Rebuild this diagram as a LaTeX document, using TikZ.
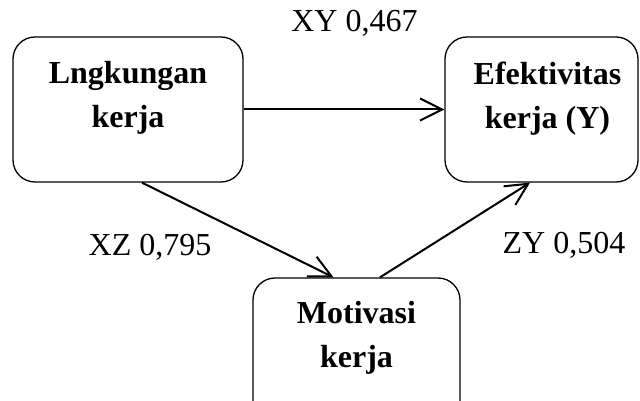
\documentclass[tikz,border=0pt]{standalone}
\usepackage{fontspec}
\setmainfont{Liberation Serif}
\usetikzlibrary{arrows.meta}
\tikzset{
  kotak/.style={draw, line width=1.3pt, rounded corners=22pt, inner sep=0pt,
    minimum height=145pt},
  teks/.style={align=center, font=\fontsize{32}{44}\selectfont\bfseries, inner sep=0pt},
  nilai/.style={anchor=base, font=\fontsize{32}{38}\selectfont, inner sep=0pt},
  panah/.style={line width=2pt, -{Straight Barb[length=22pt,width=22pt]}}
}
\begin{document}
\begin{tikzpicture}[x=1pt, y=-1pt]
  \useasboundingbox (0,0) rectangle (640,401);
  % Kotak Lingkungan kerja
  \node[kotak, minimum width=230pt] (lk) at (128,109.5) {};
  \node[teks] (lktext) at ([yshift=11.5pt]lk.center) {Lngkungan\\kerja};
  % Kotak Efektivitas kerja
  \node[kotak, minimum width=193pt] (ef) at (541.5,109.5) {};
  \node[teks] (eftext) at ([xshift=6pt, yshift=11pt]ef.center) {Efektivitas\\kerja (Y)};
  % Kotak Motivasi kerja
  \node[kotak, minimum width=207pt] (mk) at (356.5,350.5) {};
  \node[teks] (mktext) at ([yshift=12.5pt]mk.center) {Motivasi\\kerja};
  % Panah
  \draw[panah] (lk) -- (ef);
  \draw[panah] ([xshift=14pt]lk.south) -- ([xshift=-23pt]mk.north);
  \draw[panah] ([xshift=23.5pt]mk.north) -- ([xshift=-11.5pt]ef.south);
  % Nilai koefisien
  \node[nilai] (xy) at (354.5,32) {XY 0,467};
  \node[nilai] (xz) at (150,255) {XZ 0,795};
  \node[nilai] (zy) at (564,253) {ZY 0,504};
\end{tikzpicture}
\end{document}
